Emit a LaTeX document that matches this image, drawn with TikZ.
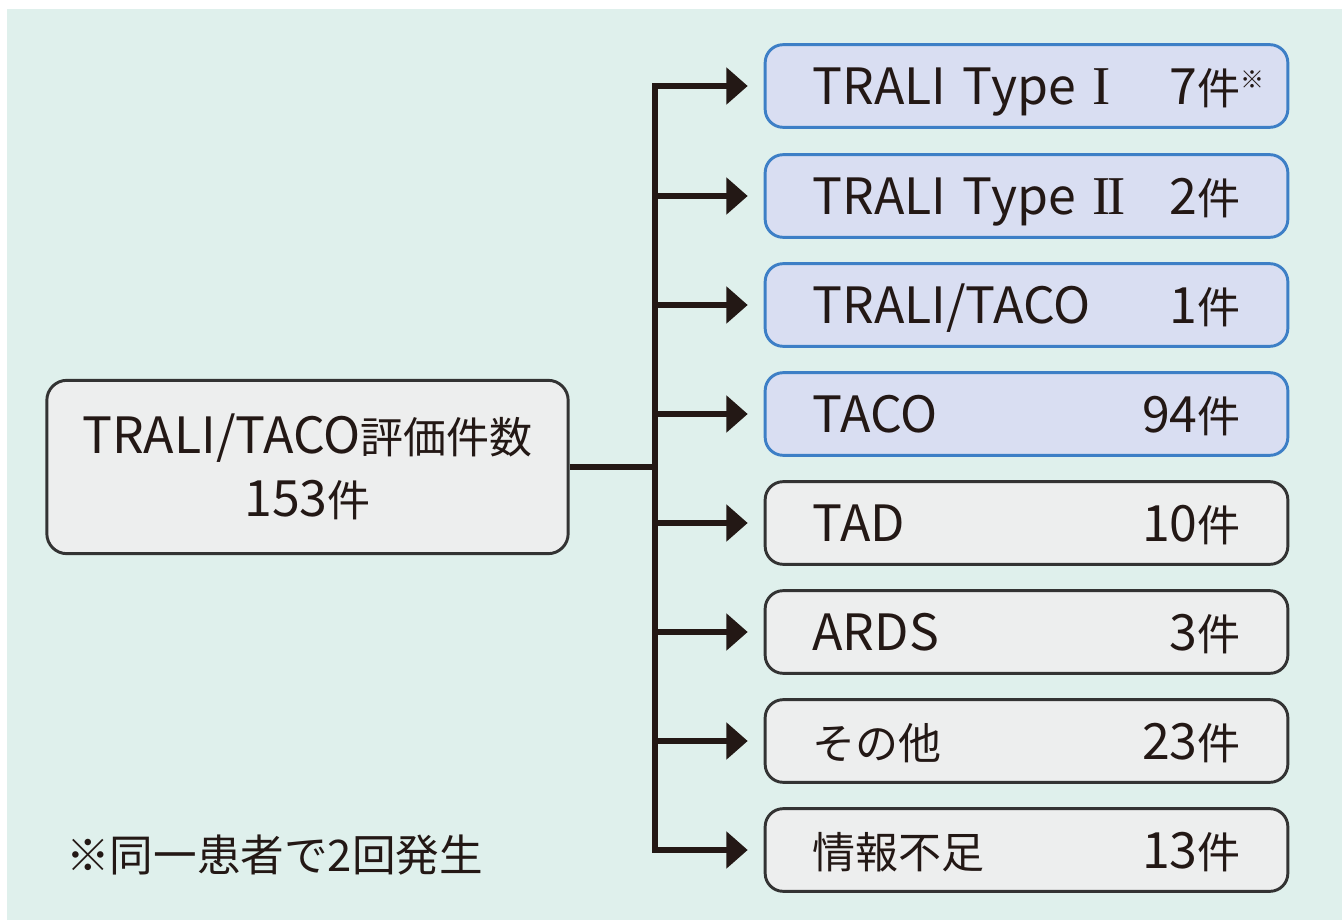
\documentclass[tikz,border=0pt]{standalone}
\usepackage{fontspec}
\setmainfont{Noto Sans CJK JP}
\newfontfamily\cj[Scale=0.86]{Noto Sans CJK JP}
\newfontfamily\romfont{Liberation Serif}
\usetikzlibrary{arrows.meta}
\definecolor{bgc}{HTML}{DFF0EC}
\definecolor{bluefill}{HTML}{D9DEF2}
\definecolor{blueline}{HTML}{3D7FC6}
\definecolor{grayfill}{HTML}{EDEEEE}
\definecolor{grayline}{HTML}{333333}
\definecolor{ink}{HTML}{231815}
\newcommand{\romI}{{\romfont\fontsize{41pt}{41pt}\selectfont I}}
\newcommand{\romII}{{\romfont\fontsize{41pt}{41pt}\selectfont I\kern-0.05em I}}
\tikzset{
  px/.style={x=0.75pt,y=-0.75pt},
  catbox/.style={rounded corners=13.5pt, line width=2.2pt, minimum width=392pt, minimum height=62pt,
     text width=321pt, text height=32pt, text depth=4.5pt, align=left, inner sep=0pt,
     font=\fontsize{37.5pt}{40pt}\selectfont, text=ink},
  bluebox/.style={catbox, draw=blueline, fill=bluefill},
  graybox/.style={catbox, draw=grayline, fill=grayfill},
  mainbox/.style={rounded corners=15pt, line width=2.2pt, draw=grayline, fill=grayfill,
     minimum width=391pt, minimum height=130pt, align=center, inner sep=0pt,
     font=\fontsize{37.5pt}{47pt}\selectfont, text=ink},
  conn/.style={line width=5pt, draw=ink},
  arr/.style={conn, -{Triangle[length=16pt,width=27pt]}, shorten >=12pt},
}
\begin{document}
\begin{tikzpicture}[px]
\useasboundingbox (0,0) rectangle (1342,920);
\fill[bgc] (7,9) rectangle (1342,920);
\node[mainbox] (main) at (307.5,467) {TRALI/TACO{\cj 評価件数}\\153{\cj 件}};
\node[bluebox] (b1) at (1026.5,86) {TRALI Type \romI\hfill 7{\cj 件}\rlap{\raisebox{12pt}{\fontsize{18pt}{18pt}\selectfont ※}}};
\node[bluebox] (b2) at (1026.5,196) {TRALI Type \romII\hfill 2{\cj 件}};
\node[bluebox] (b3) at (1026.5,305) {TRALI/TACO\hfill 1{\cj 件}};
\node[bluebox] (b4) at (1026.5,414) {TACO\hfill 94{\cj 件}};
\node[graybox] (b5) at (1026.5,523) {TAD\hfill 10{\cj 件}};
\node[graybox] (b6) at (1026.5,632) {ARDS\hfill 3{\cj 件}};
\node[graybox] (b7) at (1026.5,741) {{\cj その他}\hfill 23{\cj 件}};
\node[graybox] (b8) at (1026.5,850) {{\cj 情報不足}\hfill 13{\cj 件}};
\node[anchor=west, inner sep=0pt, font=\fontsize{32.7pt}{34pt}\selectfont, text=ink] (note) at (66,855) {※同一患者で2回発生};
\coordinate (jmain) at (655,467);
\foreach \i in {1,...,8} {
  \coordinate (j\i) at (jmain |- b\i.west);
}
\draw[conn, line cap=rect] (j1) -- (j8);
\draw[conn] (main.east) -- (jmain);
\foreach \i in {1,...,8} {
  \draw[arr] (j\i) -- (b\i.west);
}
\end{tikzpicture}
\end{document}
